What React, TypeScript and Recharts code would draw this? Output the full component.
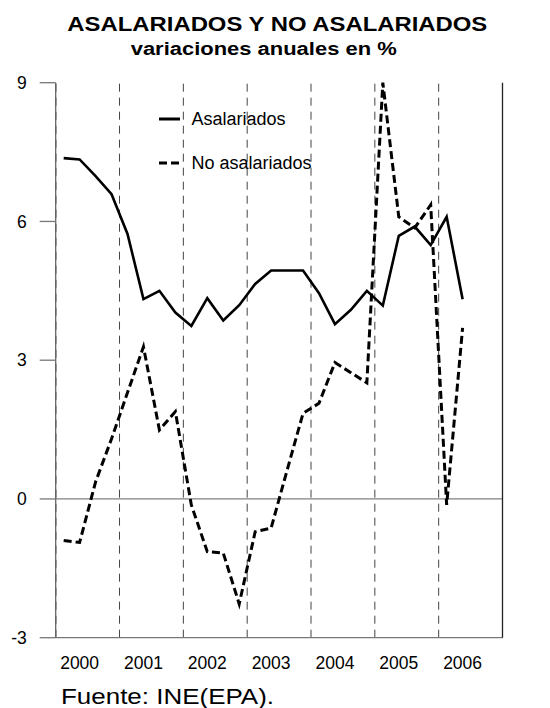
import React from 'react';
import { LineChart, Line, XAxis, YAxis, ReferenceLine, Legend } from 'recharts';

const quarters = [
  '2000-I', '2000-II', '2000-III', '2000-IV',
  '2001-I', '2001-II', '2001-III', '2001-IV',
  '2002-I', '2002-II', '2002-III', '2002-IV',
  '2003-I', '2003-II', '2003-III', '2003-IV',
  '2004-I', '2004-II', '2004-III', '2004-IV',
  '2005-I', '2005-II', '2005-III', '2005-IV',
  '2006-I', '2006-II',
];

const asalariados = [
  7.37, 7.34, 6.98, 6.59, 5.73, 4.32, 4.5, 4.03, 3.74, 4.34, 3.86, 4.19, 4.65,
  4.94, 4.94, 4.94, 4.45, 3.78, 4.09, 4.5, 4.18, 5.69, 5.89, 5.49, 6.1, 4.32,
];

const noAsalariados = [
  -0.9, -0.94, 0.37, 1.3, 2.3, 3.29, 1.49, 1.89, -0.13, -1.14, -1.17, -2.27, -0.71,
  -0.63, 0.62, 1.85, 2.07, 2.95, 2.73, 2.51, 9.0, 6.1, 5.86, 6.36, -0.13, 3.7,
];

const years = ['2000', '2001', '2002', '2003', '2004', '2005', '2006'];
const yTicks = [-3, 0, 3, 6, 9];

const QPY = 4;
const data = quarters.map((q, i) => ({
  q,
  pos: i + 0.5,
  asal: asalariados[i],
  noAsal: noAsalariados[i],
}));
const yearTickPos = years.map((_, i) => i * QPY + 1.5);
const yearBounds = years.slice(1).map((_, i) => (i + 1) * QPY);

const FONT = '"Liberation Sans", Arial, Helvetica, sans-serif';

const LegendContent = () => (
  <div style={{ fontFamily: FONT, fontSize: 18, color: '#000' }}>
    <div style={{ display: 'flex', alignItems: 'center', height: 44 }}>
      <svg width={22} height={10} style={{ display: 'block' }}>
        <line x1={0} y1={5} x2={21} y2={5} stroke="#000" strokeWidth={3} />
      </svg>
      <span style={{ marginLeft: 10.5, lineHeight: '20px' }}>Asalariados</span>
    </div>
    <div style={{ display: 'flex', alignItems: 'center', height: 44 }}>
      <svg width={22} height={10} style={{ display: 'block' }}>
        <line x1={0} y1={5} x2={21} y2={5} stroke="#000" strokeWidth={3} strokeDasharray="8 4" />
      </svg>
      <span style={{ marginLeft: 10.5, lineHeight: '20px' }}>No asalariados</span>
    </div>
  </div>
);

export default function App() {
  const tickStyle = { fill: '#000', fontSize: 17.5, fontFamily: FONT };
  return (
    <div style={{ position: 'absolute', left: 0, top: 0, width: 550, height: 708, background: '#fff' }}>
      <LineChart
        width={550}
        height={708}
        data={data}
        margin={{ top: 82.7, right: 0, bottom: 40.3, left: 0 }}
      >
        <XAxis
          dataKey="pos"
          type="number"
          domain={[0, 28]}
          ticks={yearTickPos}
          interval={0}
          tickFormatter={(v: number) => years[Math.floor(v / QPY)]}
          tickLine={false}
          tickSize={0}
          tickMargin={19}
          height={30}
          axisLine={{ stroke: '#777', strokeWidth: 1.3 }}
          tick={tickStyle}
        />
        <YAxis
          yAxisId="left"
          domain={[-3, 9]}
          ticks={yTicks}
          interval={0}
          width={55.7}
          tickSize={16}
          tickMargin={13}
          axisLine={{ stroke: '#666', strokeWidth: 1.3 }}
          tickLine={{ stroke: '#777', strokeWidth: 1.3 }}
          tick={tickStyle}
        />
        <YAxis
          yAxisId="right"
          orientation="right"
          domain={[-3, 9]}
          ticks={yTicks}
          interval={0}
          width={47.5}
          tickSize={17}
          tickMargin={11}
          axisLine={{ stroke: '#222', strokeWidth: 1.3 }}
          tickLine={{ stroke: '#777', strokeWidth: 1.3 }}
          tick={tickStyle}
        />
        <ReferenceLine yAxisId="left" y={0} stroke="#808080" strokeWidth={1.3} />
        <ReferenceLine yAxisId="left" x={0} stroke="#222" strokeWidth={1.3} strokeDasharray="8 6" />
        {yearBounds.map((b) => (
          <ReferenceLine key={b} yAxisId="left" x={b} stroke="#444" strokeWidth={1} strokeDasharray="8 6" />
        ))}
        <Line
          yAxisId="left"
          dataKey="asal"
          name="Asalariados"
          stroke="#000"
          strokeWidth={2.6}
          dot={false}
          isAnimationActive={false}
        />
        <Line
          yAxisId="left"
          dataKey="noAsal"
          name="No asalariados"
          stroke="#000"
          strokeWidth={3}
          strokeDasharray="8 4"
          dot={false}
          isAnimationActive={false}
        />
        <Legend
          layout="horizontal"
          verticalAlign="middle"
          align="center"
          content={<LegendContent />}
          wrapperStyle={{ left: 159, top: 97, width: 200 }}
        />
      </LineChart>
      <svg
        width={550}
        height={708}
        style={{ position: 'absolute', left: 0, top: 0, pointerEvents: 'none' }}
      >
        <text x={67.3} y={31} fontFamily={FONT} fontWeight="bold" fontSize={20} textLength={420} lengthAdjust="spacingAndGlyphs">
          ASALARIADOS Y NO ASALARIADOS
        </text>
        <text x={130.7} y={55} fontFamily={FONT} fontWeight="bold" fontSize={18} textLength={266} lengthAdjust="spacingAndGlyphs">
          variaciones anuales en %
        </text>
        <text x={61} y={704.3} fontFamily={FONT} fontSize={22} textLength={213} lengthAdjust="spacingAndGlyphs">
          Fuente: INE(EPA).
        </text>
      </svg>
    </div>
  );
}
